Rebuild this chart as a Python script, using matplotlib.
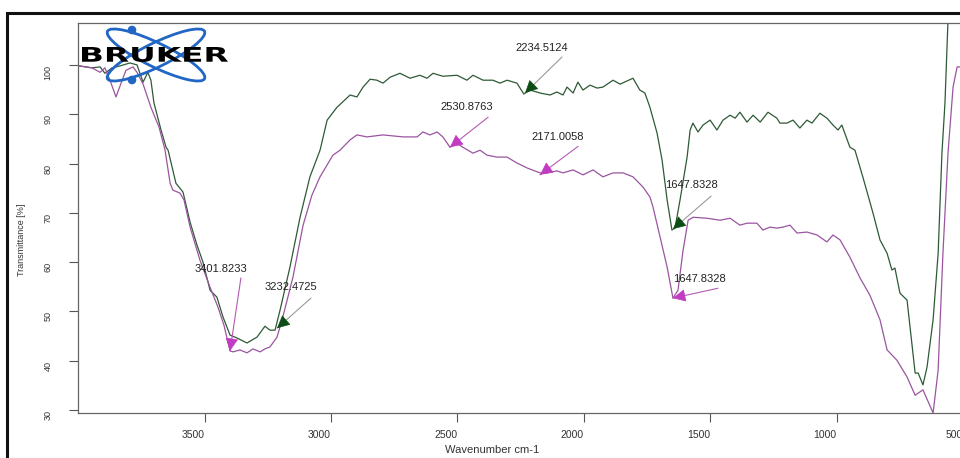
import matplotlib
matplotlib.use("Agg")
import matplotlib.pyplot as plt
import numpy as np
from matplotlib.patches import Ellipse, Circle, PathPatch
from matplotlib.textpath import TextPath
from matplotlib.font_manager import FontProperties
from matplotlib.transforms import Affine2D

plt.rcParams['font.family'] = ['Liberation Sans', 'DejaVu Sans']

# ---------------- data ----------------
green_wn = [3996, 3945, 3913, 3894, 3866, 3834, 3795, 3767, 3743, 3724,
            3712, 3700, 3672, 3652, 3644, 3613, 3585, 3557, 3530, 3506,
            3478, 3451, 3427, 3399, 3371, 3332, 3292, 3261, 3241, 3221,
            3201, 3162, 3122, 3083, 3043, 3015, 2976, 2924, 2897, 2873,
            2845, 2818, 2794, 2766, 2727, 2687, 2648, 2620, 2596, 2557,
            2501, 2462, 2438, 2398, 2359, 2331, 2303, 2264, 2237, 2212,
            2173, 2133, 2106, 2082, 2066, 2042, 2023, 2003, 1975, 1947,
            1924, 1884, 1856, 1805, 1778, 1758, 1738, 1710, 1690, 1670,
            1651, 1639, 1619, 1591, 1579, 1568, 1548, 1528, 1500, 1473,
            1449, 1421, 1401, 1382, 1354, 1330, 1302, 1271, 1236, 1224,
            1196, 1172, 1145, 1117, 1097, 1066, 1038, 1014, 994, 979,
            947, 927, 896, 856, 828, 800, 781, 769, 749, 721,
            709, 689, 677, 658, 642, 618, 598, 583, 571, 559,
            551]
green_t = [99.8, 99.4, 99.6, 98.3, 99.4, 99.8, 100.4, 100.0, 96.5, 98.5,
           96.9, 92.3, 86.8, 83.3, 82.7, 76.0, 74.2, 68.1, 63.5, 60.0,
           54.3, 52.9, 48.9, 45.2, 44.6, 43.6, 44.8, 47.0, 46.2, 46.2,
           50.3, 59.0, 69.1, 77.3, 82.7, 88.8, 91.4, 93.9, 93.5, 95.5,
           97.1, 96.9, 96.3, 97.5, 98.3, 97.3, 97.9, 97.3, 98.3, 97.7,
           97.9, 96.9, 97.9, 96.9, 96.9, 96.3, 96.9, 96.3, 94.1, 94.9,
           94.3, 93.9, 94.5, 93.9, 95.5, 94.3, 96.5, 94.9, 95.9, 95.3,
           95.5, 96.9, 96.1, 97.3, 94.9, 94.3, 91.4, 86.2, 80.7, 72.6,
           66.5, 66.9, 72.6, 81.3, 86.8, 88.2, 86.4, 87.8, 88.8, 86.8,
           88.8, 89.8, 89.2, 90.4, 88.4, 89.8, 88.4, 90.4, 89.2, 88.2,
           88.2, 88.8, 87.2, 88.8, 88.2, 90.2, 89.2, 87.8, 86.8, 87.8,
           83.3, 82.7, 77.3, 70.0, 64.5, 61.8, 58.4, 58.8, 53.7, 52.3,
           46.8, 37.5, 37.5, 35.1, 38.7, 48.3, 61.8, 82.1, 92.3, 109.1,
           117.0]

purple_wn = [3996, 3945, 3913, 3894, 3874, 3850, 3830, 3811, 3783, 3767,
             3743, 3731, 3712, 3680, 3656, 3636, 3625, 3597, 3581, 3557,
             3518, 3478, 3447, 3423, 3399, 3387, 3360, 3332, 3308, 3280,
             3261, 3241, 3213, 3190, 3150, 3110, 3075, 3043, 2992, 2964,
             2924, 2897, 2857, 2794, 2715, 2659, 2636, 2608, 2580, 2557,
             2529, 2501, 2478, 2438, 2410, 2383, 2343, 2303, 2264, 2224,
             2173, 2145, 2106, 2082, 2042, 2003, 1963, 1924, 1884, 1844,
             1805, 1765, 1738, 1726, 1698, 1670, 1647, 1627, 1607, 1587,
             1567, 1512, 1461, 1421, 1382, 1354, 1315, 1291, 1263, 1236,
             1212, 1184, 1156, 1117, 1077, 1038, 1014, 986, 947, 907,
             868, 828, 800, 761, 721, 689, 658, 618, 598, 579,
             559, 539, 523, 503]
purple_t = [99.8, 99.4, 98.5, 99.4, 96.9, 93.5, 96.3, 98.9, 99.6, 98.5,
            96.1, 94.3, 91.4, 87.4, 82.7, 76.0, 74.6, 74.0, 72.6, 67.1,
            60.4, 54.9, 50.9, 47.2, 42.0, 41.8, 42.2, 41.6, 42.4, 41.8,
            42.4, 42.8, 44.8, 48.9, 57.0, 67.5, 73.6, 77.3, 81.7, 82.7,
            84.8, 85.8, 85.4, 85.8, 85.4, 85.4, 86.4, 85.8, 86.4, 85.4,
            83.3, 84.1, 83.3, 82.1, 82.7, 81.7, 81.3, 81.3, 80.1, 79.1,
            78.1, 78.1, 78.5, 78.1, 78.7, 77.7, 78.7, 77.3, 78.1, 78.1,
            77.3, 75.2, 73.2, 71.2, 65.1, 59.0, 52.7, 54.3, 62.4, 68.5,
            69.1, 68.9, 68.5, 68.9, 67.5, 67.9, 67.9, 66.5, 67.1, 66.9,
            67.1, 67.5, 65.9, 66.1, 65.5, 64.1, 65.5, 64.5, 61.0, 56.8,
            53.3, 48.3, 42.2, 40.1, 36.7, 33.0, 34.1, 29.4, 38.1, 61.8,
            82.1, 95.5, 99.6, 99.6]

x_ticks = [3500, 3000, 2500, 2000, 1500, 1000, 500]
y_ticks = [30, 40, 50, 60, 70, 80, 90, 100]

peak_labels = ['3401.8233', '3232.4725', '2530.8763', '2171.0058',
               '2234.5124', '1647.8328', '1647.8328']
peak_series = ['purple', 'green', 'purple', 'purple', 'green', 'green', 'purple']
peak_tip_wn = [3399, 3213, 2529, 2173, 2232, 1647, 1647]
peak_tip_t = [42.0, 46.6, 83.3, 77.7, 94.3, 66.7, 52.7]
label_wn = [3435, 3158, 2462, 2102, 2165, 1575, 1544]
label_t = [58.6, 54.9, 91.4, 85.4, 103.4, 75.6, 56.6]
tail_wn = [3356, 3079, 2378, 2022, 2086, 1496, 1469]
tail_t = [56.8, 52.7, 89.4, 83.5, 101.6, 73.4, 54.7]

# ---------------- figure ----------------
W, H = 960, 458
fig = plt.figure(figsize=(W / 100, H / 100), dpi=100)
fig.patch.set_facecolor('white')

ax = fig.add_axes([78.1 / W, 45 / H, 910.1 / W, 390 / H])
ax.set_xlim(4000, 400)
ax.set_ylim(29.4, 108.5)

GREEN = '#2e5a36'
PURPLE = '#9a55a0'
ax.plot(green_wn, green_t, color=GREEN, lw=0.9)
ax.plot(purple_wn, purple_t, color=PURPLE, lw=0.9)

for s in ax.spines.values():
    s.set_color('#666666')
    s.set_linewidth(0.9)

ax.set_xticks(x_ticks)
ax.set_yticks(y_ticks)
ax.tick_params(direction='out', length=6.5, width=0.8, color='#555555',
               labelcolor='#333333')
ax.tick_params(axis='x', labelsize=7.5, pad=6)
ax.tick_params(axis='y', labelsize=6.5, pad=12, labelrotation=90)
for lab in ax.get_xticklabels():
    lab.set_ha('right')
for lab in ax.get_yticklabels():
    lab.set_va('top')

fig.text(22 / W, 1 - 240 / H, 'Transmittance [%]', rotation=90,
         ha='center', va='center', fontsize=6.5, color='#333333')
fig.text(492 / W, 1 - 450 / H, 'Wavenumber cm-1', ha='center', va='center',
         fontsize=8, color='#333333')

# annotations
line_col = {'green': '#9a9a9a', 'purple': '#b45ab4'}
head_col = {'green': '#0c4d16', 'purple': '#c23cc2'}
fig.canvas.draw()
for lab, ser, twn, tt, lwn, lt, awn, at in zip(peak_labels, peak_series,
                                              peak_tip_wn, peak_tip_t,
                                              label_wn, label_t, tail_wn, tail_t):
    ax.text(lwn, lt, lab, ha='center', va='center', fontsize=8,
            color='#222222', zorder=6)
    ax.annotate('', xy=(twn, tt), xytext=(awn, at),
                arrowprops=dict(arrowstyle='-', color=line_col[ser], lw=0.8,
                                shrinkA=0, shrinkB=0), zorder=6)
    p_tip = ax.transData.transform((twn, tt))
    p_tail = ax.transData.transform((awn, at))
    d = p_tail - p_tip
    d = d / np.hypot(*d)
    off = d * 9 * 72 / 100
    ax.annotate('', xy=(twn, tt), xytext=(off[0], off[1]),
                textcoords='offset points',
                arrowprops=dict(arrowstyle='-|>,head_length=0.9,head_width=0.45',
                                color=head_col[ser], lw=0.5,
                                shrinkA=0, shrinkB=0, mutation_scale=9),
                zorder=7)

# ---------------- overlay: frame and logo ----------------
ov = fig.add_axes([0, 0, 1, 1], zorder=5)
ov.set_xlim(0, W)
ov.set_ylim(H, 0)
ov.axis('off')
ov.patch.set_alpha(0)

ov.plot([7, 7, W + 20], [H + 20, 13, 13], color='#111111', lw=2.2,
        clip_on=False, solid_joinstyle='miter')

BLUE = '#2166c4'
for ang in (26, -26):
    ov.add_patch(Ellipse((156, 55), 108, 24, angle=ang, fill=False,
                         ec=BLUE, lw=2.0))
for cy in (30, 80):
    ov.add_patch(Circle((132, cy), 3.6, color=BLUE))

tp = TextPath((0, 0), 'BRUKER', size=20,
              prop=FontProperties(family='DejaVu Sans', weight='bold'))
ext = tp.get_extents()
tr = Affine2D().translate(-ext.x0, -ext.y0).scale(146 / ext.width,
                                                  -15 / ext.height).translate(82, 62)
ov.add_patch(PathPatch(tr.transform_path(tp), fc='black', ec='none'))

fig.savefig('out.png', dpi=100, facecolor='white')
